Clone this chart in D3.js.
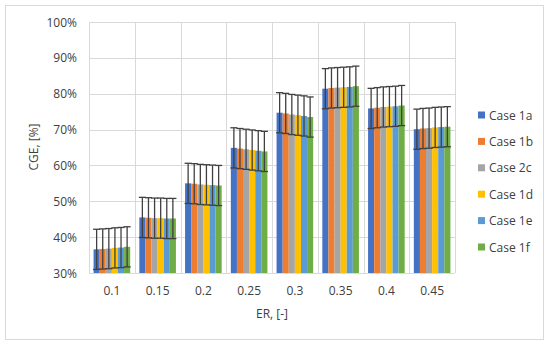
<!DOCTYPE html>
<html>
<head>
<meta charset="utf-8">
<script src="https://cdn.jsdelivr.net/npm/d3@7"></script>
<style>
  body { margin: 0; background: #fff; }
  text { font-family: "Open Sans", "Liberation Sans", sans-serif; fill: #404040; }
</style>
</head>
<body>
<svg id="chart" width="550" height="345"></svg>
<script>
// categories and series
const categories = ['0.1', '0.15', '0.2', '0.25', '0.3', '0.35', '0.4', '0.45'];
const seriesNames = ['Case 1a', 'Case 1b', 'Case 2c', 'Case 1d', 'Case 1e', 'Case 1f'];
const case1a = [36.6, 45.5, 55.0, 64.9, 74.7, 81.4, 75.9, 70.1];
const case1b = [36.7, 45.4, 54.9, 64.7, 74.5, 81.6, 76.1, 70.3];
const case2c = [36.8, 45.3, 54.7, 64.5, 74.2, 81.7, 76.3, 70.4];
const case1d = [37.0, 45.3, 54.6, 64.3, 74.0, 81.8, 76.4, 70.6];
const case1e = [37.1, 45.2, 54.5, 64.1, 73.8, 81.9, 76.5, 70.7];
const case1f = [37.3, 45.2, 54.4, 63.9, 73.5, 82.1, 76.7, 70.8];
const errorPct = 5.6;
const yTicks = [30, 40, 50, 60, 70, 80, 90, 100];
const colors = ['#4472C4', '#ED7D31', '#A5A5A5', '#FFC000', '#5B9BD5', '#70AD47'];

const values = [case1a, case1b, case2c, case1d, case1e, case1f];

const svg = d3.select('#chart');
const plot = { left: 89, right: 455, top: 22, bottom: 273 };

// outer frame
svg.append('rect')
  .attr('x', 5.5).attr('y', 5.5)
  .attr('width', 538).attr('height', 334)
  .attr('fill', '#fff')
  .attr('stroke', '#d9d9d9');

const x0 = d3.scaleBand()
  .domain(categories)
  .range([plot.left, plot.right])
  .paddingInner(0.2)
  .paddingOuter(0.1);

const x1 = d3.scaleBand()
  .domain(seriesNames)
  .range([0, x0.bandwidth()]);

const y = d3.scaleLinear()
  .domain([30, 100])
  .range([plot.bottom, plot.top]);

const step = x0.step();

// horizontal gridlines
svg.append('g')
  .selectAll('line')
  .data(yTicks)
  .enter()
  .append('line')
  .attr('x1', plot.left).attr('x2', plot.right)
  .attr('y1', d => Math.round(y(d)) + 0.5)
  .attr('y2', d => Math.round(y(d)) + 0.5)
  .attr('stroke', '#d9d9d9');

// vertical gridlines at category boundaries
svg.append('g')
  .selectAll('line')
  .data(d3.range(categories.length + 1))
  .enter()
  .append('line')
  .attr('x1', i => Math.round(plot.left + i * step) + 0.5)
  .attr('x2', i => Math.round(plot.left + i * step) + 0.5)
  .attr('y1', plot.top).attr('y2', plot.bottom)
  .attr('stroke', '#d9d9d9');

// bars
const groups = svg.append('g')
  .selectAll('g')
  .data(categories)
  .enter()
  .append('g')
  .attr('transform', c => `translate(${x0(c)},0)`);

groups.selectAll('rect')
  .data((c, ci) => seriesNames.map((s, si) => ({ s, si, v: values[si][ci] })))
  .enter()
  .append('rect')
  .attr('x', d => x1(d.s))
  .attr('y', d => y(d.v))
  .attr('width', x1.bandwidth())
  .attr('height', d => y(30) - y(d.v))
  .attr('fill', d => colors[d.si]);

// error bars
const eb = groups.selectAll('g.err')
  .data((c, ci) => seriesNames.map((s, si) => ({ s, si, v: values[si][ci] })))
  .enter()
  .append('g')
  .attr('class', 'err')
  .attr('stroke', '#404040')
  .attr('stroke-width', 1.3);

const cx = d => x1(d.s) + x1.bandwidth() / 2;
const half = x1.bandwidth() / 2 + 0.5;

eb.append('line')
  .attr('x1', cx).attr('x2', cx)
  .attr('y1', d => y(d.v + errorPct))
  .attr('y2', d => y(d.v - errorPct));
eb.append('line')
  .attr('x1', d => cx(d) - half).attr('x2', d => cx(d) + half)
  .attr('y1', d => y(d.v + errorPct)).attr('y2', d => y(d.v + errorPct));
eb.append('line')
  .attr('x1', d => cx(d) - half).attr('x2', d => cx(d) + half)
  .attr('y1', d => y(d.v - errorPct)).attr('y2', d => y(d.v - errorPct));

// baseline
svg.append('line')
  .attr('x1', plot.left).attr('x2', plot.right)
  .attr('y1', Math.round(y(30)) + 0.5).attr('y2', Math.round(y(30)) + 0.5)
  .attr('stroke', '#d9d9d9');

// y tick labels
svg.append('g')
  .selectAll('text')
  .data(yTicks)
  .enter()
  .append('text')
  .attr('x', 77)
  .attr('y', d => y(d) + 4.5)
  .attr('text-anchor', 'end')
  .style('font-size', '12px')
  .text(d => d + '%');

// x tick labels
svg.append('g')
  .selectAll('text')
  .data(categories)
  .enter()
  .append('text')
  .attr('x', c => x0(c) + x0.bandwidth() / 2)
  .attr('y', 295)
  .attr('text-anchor', 'middle')
  .style('font-size', '12px')
  .text(c => c);

// axis titles
svg.append('text')
  .attr('x', 272).attr('y', 318)
  .attr('text-anchor', 'middle')
  .style('font-size', '12px')
  .text('ER, [-]');

svg.append('text')
  .attr('transform', 'translate(38,147) rotate(-90)')
  .attr('text-anchor', 'middle')
  .style('font-size', '12px')
  .text('CGE, [%]');

// legend
const legend = svg.append('g')
  .selectAll('g')
  .data(seriesNames)
  .enter()
  .append('g')
  .attr('transform', (d, i) => `translate(478,${116 + i * 26.4})`);

legend.append('rect')
  .attr('x', 0).attr('y', -4.5)
  .attr('width', 7).attr('height', 7)
  .attr('fill', (d, i) => colors[i]);

legend.append('text')
  .attr('x', 11).attr('y', 3.5)
  .style('font-size', '12px')
  .text(d => d);
</script>
</body>
</html>
